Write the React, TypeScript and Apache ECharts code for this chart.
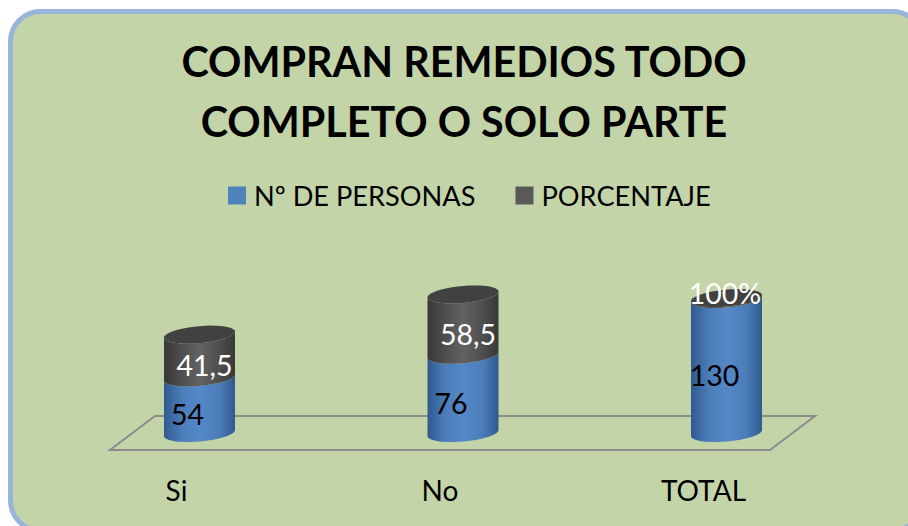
import React, { useEffect, useRef } from "react";
import * as echarts from "echarts";

const categories = ["Si", "No", "TOTAL"];
const personas = [54, 76, 130];
const porcentaje = [41.5, 58.5, 1];
const personasLabels = ["54", "76", "130"];
const porcentajeLabels = ["41,5", "58,5", "100%"];
const seriesNames = ["Nº DE PERSONAS", "PORCENTAJE"];
const titleLines = "COMPRAN REMEDIOS TODO\nCOMPLETO O SOLO PARTE";

const FONT = "Lato, 'Open Sans', sans-serif";
const BLUE = { edge: "#2f5a8f", side: "#4c7db9", mid: "#5488c8", cap: "#4f81bd" };
const DARK = { edge: "#383838", side: "#4e4e4e", mid: "#626262", cap: "#414141" };

const ellipse = (cx: number, cy: number, a: number, from: number, to: number) => {
  const pts: number[][] = [];
  const b = 8.5;
  const k = 0.085;
  const n = 40;
  for (let i = 0; i <= n; i++) {
    const t = from + ((to - from) * i) / n;
    const dx = a * Math.cos(t);
    pts.push([cx + dx, cy + b * Math.sin(t) - k * dx]);
  }
  return pts;
};

const cylinder = (
  cx: number, yBase: number, yTop: number, a: number,
  pal: typeof BLUE,
  withCap: boolean, label: string, color: string, thin: boolean, dx: number,
) => {
  const lower = ellipse(cx, yBase, a, Math.PI, 0);
  const upper = ellipse(cx, yTop, a, 0, Math.PI);
  const fill = new echarts.graphic.LinearGradient(0, 0, 1, 0, [
    { offset: 0, color: pal.edge },
    { offset: 0.25, color: pal.side },
    { offset: 0.5, color: pal.mid },
    { offset: 0.78, color: pal.side },
    { offset: 1, color: pal.edge },
  ]);
  const children: any[] = [
    {
      type: "polygon",
      shape: { points: [...lower, ...upper] },
      style: { fill },
      z2: 1,
    },
  ];
  if (withCap) {
    children.push({
      type: "polygon",
      shape: { points: ellipse(cx, yTop, a, 0, Math.PI * 2) },
      style: { fill: pal.cap },
      z2: 2,
    });
  }
  children.push({
    type: "text",
    style: {
      text: label,
      x: cx + (thin ? -1.5 : dx),
      y: thin ? yTop - 5 : (yBase + yTop) / 2 + 9,
      fill: color,
      font: `400 28.5px ${FONT}`,
      align: "center",
      verticalAlign: "middle",
    },
    z2: 5,
  });
  return children;
};

const App = () => {
  const ref = useRef<HTMLDivElement>(null);
  useEffect(() => {
    const chart = echarts.init(ref.current!, undefined, { renderer: "svg" });
    const seriesFor = (
      name: string, vals: number[], base: number[], labels: string[],
      pal: typeof BLUE, top: boolean, color: string, dx: number,
    ) => ({
      name,
      type: "custom",
      coordinateSystem: "cartesian2d",
      itemStyle: { color: pal === BLUE ? "#4f81bd" : "#595959" },
      encode: { x: 0, y: 1 },
      data: categories.map((_, i) => [i, base[i] + vals[i], base[i], i]),
      z: top ? 3 : 2,
      renderItem: (_p: any, api: any) => {
        const i = api.value(3);
        const [cx, yTop] = api.coord([api.value(0), api.value(1)]);
        const [, yBase] = api.coord([api.value(0), api.value(2)]);
        return {
          type: "group",
          children: cylinder(cx, yBase, yTop, 35.5, pal, top, labels[i], color, vals[i] < 10, dx),
        };
      },
    });
    chart.setOption({
      animation: false,
      backgroundColor: "#ffffff",
      textStyle: { fontFamily: FONT },
      graphic: [
        {
          type: "rect",
          z: -10,
          shape: { x: 10.5, y: 11.5, width: 912, height: 519, r: 30 },
          style: { fill: "#c3d5a8", stroke: "#98b4d9", lineWidth: 5 },
          silent: true,
        },
        {
          type: "polygon",
          z: -5,
          shape: { points: [[110, 450], [770, 450], [815, 416], [155, 416]] },
          style: { fill: "none", stroke: "#8c8c8c", lineWidth: 2 },
          silent: true,
        },
      ],
      title: {
        text: titleLines,
        left: 459,
        top: 26,
        textAlign: "center",
        textStyle: { fontFamily: FONT, fontWeight: 700, fontSize: 41.3, lineHeight: 60, color: "#000" },
      },
      legend: {
        left: 228,
        top: 182,
        padding: 0,
        itemWidth: 18,
        itemHeight: 18,
        itemGap: 40,
        icon: "rect",
        data: seriesNames,
        textStyle: { fontFamily: FONT, fontSize: 27.2, color: "#000", padding: [0, 0, 0, 3] },
        selectedMode: false,
      },
      grid: { left: 67.75, width: 790.5, top: 227, height: 206 },
      xAxis: {
        type: "category",
        data: categories,
        axisLine: { show: false },
        axisTick: { show: false },
        axisLabel: { color: "#000", fontSize: 28, fontFamily: FONT, margin: 43, padding: [0, 46, 0, 0] },
      },
      yAxis: { type: "value", min: 0, max: 200, show: false },
      series: [
        seriesFor(seriesNames[0], personas, [0, 0, 0], personasLabels, BLUE, false, "#000", -12),
        seriesFor(seriesNames[1], porcentaje, personas, porcentajeLabels, DARK, true, "#fff", 5),
      ],
    });
    return () => chart.dispose();
  }, []);
  return <div ref={ref} style={{ position: "fixed", left: 0, top: 0, width: 908, height: 526 }} />;
};

export default App;
